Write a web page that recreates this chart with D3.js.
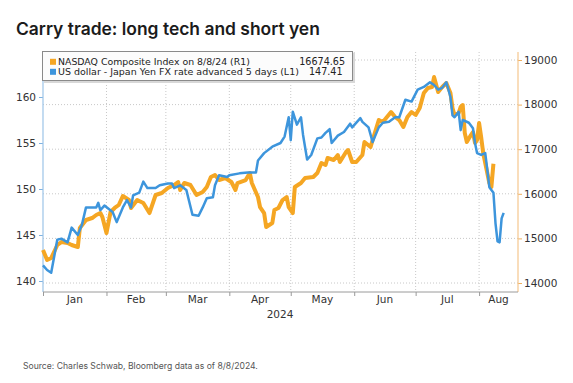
<!DOCTYPE html>
<html><head><meta charset="utf-8">
<script src="https://cdnjs.cloudflare.com/ajax/libs/d3/7.8.5/d3.min.js"></script>
<style>
html,body{margin:0;padding:0;background:#fff;}
svg{display:block;}
</style></head>
<body>
<svg id="chart" width="573" height="383"></svg>
<script>
// ---------- DATA ----------
const title = "Carry trade: long tech and short yen";
const source = "Source: Charles Schwab, Bloomberg data as of 8/8/2024.";
const legendLabels = ["NASDAQ Composite Index on 8/8/24 (R1)", "US dollar - Japan Yen FX rate advanced 5 days (L1)"];
const legendValues = ["16674.65", "147.41"];
const monthLabels = ["Jan","Feb","Mar","Apr","May","Jun","Jul","Aug"];
const yearLabel = "2024";
const leftTicks = [140,145,150,155,160];
const rightTicks = [14000,15000,16000,17000,18000,19000];

const usdjpyDates = ["2024-01-01","2024-01-03","2024-01-05","2024-01-08","2024-01-10","2024-01-13","2024-01-15","2024-01-18","2024-01-20","2024-01-22","2024-01-27","2024-01-28","2024-01-29","2024-01-31",
"2024-02-04","2024-02-06","2024-02-09","2024-02-11","2024-02-13","2024-02-14","2024-02-17","2024-02-19","2024-02-21","2024-02-25","2024-02-27",
"2024-03-02","2024-03-04","2024-03-05","2024-03-08","2024-03-11","2024-03-14","2024-03-17","2024-03-19","2024-03-21","2024-03-24","2024-03-25","2024-03-27","2024-03-31",
"2024-04-01","2024-04-06","2024-04-10","2024-04-14","2024-04-15","2024-04-18","2024-04-22","2024-04-26","2024-04-28","2024-04-30",
"2024-05-01","2024-05-02","2024-05-04","2024-05-06","2024-05-07","2024-05-09","2024-05-11","2024-05-14","2024-05-16","2024-05-18","2024-05-20","2024-05-21","2024-05-24","2024-05-27","2024-05-30","2024-05-31",
"2024-06-04","2024-06-05","2024-06-08","2024-06-10","2024-06-13","2024-06-15","2024-06-18","2024-06-21","2024-06-23","2024-06-26","2024-06-29",
"2024-07-02","2024-07-05","2024-07-08","2024-07-10","2024-07-12","2024-07-14","2024-07-16","2024-07-18","2024-07-19","2024-07-20","2024-07-22","2024-07-23","2024-07-24","2024-07-27","2024-07-29","2024-07-30","2024-07-31",
"2024-08-02","2024-08-04","2024-08-05","2024-08-06","2024-08-08","2024-08-09","2024-08-10","2024-08-11","2024-08-12","2024-08-13"];
const usdjpyValues = [141.7,141.2,140.9,144.5,144.6,144.2,145.8,145.0,146.1,148.0,148.0,148.5,147.7,148.2,
147.5,146.4,148.0,148.8,148.0,149.3,149.6,150.8,150.1,150.1,150.4,
150.6,150.6,150.1,150.4,149.9,147.2,147.1,148.0,149.0,149.1,150.4,151.5,151.3,
151.5,151.7,151.8,151.8,153.1,153.9,154.6,155.0,155.7,157.8,
155.3,158.4,157.0,157.8,155.9,153.2,153.7,155.5,155.6,156.1,156.5,155.0,155.8,156.2,157.1,156.7,
157.7,157.3,156.7,155.1,156.7,157.2,157.3,157.8,157.8,159.7,159.5,
160.8,161.1,161.6,161.3,160.8,161.0,161.6,160.0,158.0,157.8,158.4,156.4,157.5,157.2,156.6,155.0,153.9,
153.7,153.9,152.1,150.2,149.6,146.3,144.3,144.2,146.8,147.41];

const nasdaqDates = ["2024-01-01","2024-01-03","2024-01-05","2024-01-08","2024-01-10","2024-01-13","2024-01-15","2024-01-18","2024-01-19","2024-01-22","2024-01-25","2024-01-27","2024-01-29","2024-01-30",
"2024-02-01","2024-02-03","2024-02-05","2024-02-07","2024-02-09","2024-02-12","2024-02-13","2024-02-16","2024-02-19","2024-02-22","2024-02-25","2024-02-28",
"2024-03-02","2024-03-05","2024-03-07","2024-03-08","2024-03-10","2024-03-13","2024-03-16","2024-03-19","2024-03-21","2024-03-23","2024-03-25","2024-03-27","2024-03-30",
"2024-04-02","2024-04-04","2024-04-05","2024-04-09","2024-04-11","2024-04-12","2024-04-15","2024-04-16","2024-04-18","2024-04-19","2024-04-22","2024-04-23","2024-04-25","2024-04-27","2024-04-29","2024-04-30",
"2024-05-02","2024-05-03","2024-05-06","2024-05-08","2024-05-12","2024-05-14","2024-05-16","2024-05-18","2024-05-19","2024-05-22","2024-05-24","2024-05-25","2024-05-28","2024-05-29","2024-05-31",
"2024-06-02","2024-06-05","2024-06-06","2024-06-09","2024-06-10","2024-06-13","2024-06-15","2024-06-19","2024-06-21","2024-06-23","2024-06-25","2024-06-27","2024-06-29",
"2024-07-01","2024-07-03","2024-07-05","2024-07-07","2024-07-09","2024-07-10","2024-07-12","2024-07-14","2024-07-16","2024-07-18","2024-07-19","2024-07-20","2024-07-22","2024-07-23","2024-07-24","2024-07-25","2024-07-26","2024-07-28","2024-07-29","2024-07-30","2024-07-31",
"2024-08-01","2024-08-02","2024-08-03","2024-08-05","2024-08-06","2024-08-07","2024-08-08"];
const nasdaqValues = [14740,14516,14560,14852,14919,14897,14852,14807,15233,15412,15457,15525,15569,15480,
15121,15592,15682,15749,15950,15861,15682,15861,15794,15569,15973,16018,
16130,16197,16264,16085,16242,16197,15973,16040,16152,16376,16421,16309,16354,
16264,16085,16242,16309,16466,16242,15928,15704,15569,15256,15345,15637,15682,15861,15928,15704,
15569,16152,16242,16354,16376,16466,16690,16646,16803,16758,16870,16713,16937,16982,16713,
16713,16870,17161,17049,17206,17654,17610,17834,17722,17654,17498,17722,17834,
17767,17923,18260,18372,18394,18618,18282,18394,18484,18260,17923,17767,17811,17946,17991,17363,17161,17318,17385,17139,17206,
17587,17273,16915,16466,16242,16152,16674.65];

// ---------- LAYOUT ----------
const svg = d3.select("#chart");
const X0 = 43, X1 = 518, YT = 52, YB = 292;
const parse = d3.utcParse("%Y-%m-%d");
const x = d3.scaleUtc().domain([parse("2024-01-01"), parse("2024-08-20")]).range([X0, X1]);
const yL = d3.scaleLinear().domain([140,160]).range([281,97]);
const yR = d3.scaleLinear().domain([14000,19000]).range([283,60]);
const tickFont = "DejaVu Sans, Verdana, sans-serif";

function fitText(sel, target){
  const w = sel.node().getComputedTextLength();
  const fs = parseFloat(sel.attr("font-size"));
  sel.attr("font-size", (fs*target/w).toFixed(2));
}

// title
const t = svg.append("text").attr("x",16).attr("y",35).attr("font-family","Inter, 'Open Sans', sans-serif")
  .attr("font-weight",600).attr("font-size",19).attr("fill","#1b1b1b").text(title);
fitText(t, 304);

// gridlines
const monthStarts = d3.utcMonth.range(parse("2024-01-01"), parse("2024-08-20"));
const grid = svg.append("g");
grid.selectAll(".hg").data(rightTicks).join("line")
  .attr("x1",X0).attr("x2",X1).attr("y1",d=>yR(d)).attr("y2",d=>yR(d))
  .attr("stroke","#c8c8c8").attr("stroke-width",1).attr("stroke-dasharray","1,2");
grid.selectAll(".vg").data(monthStarts.slice(1)).join("line")
  .attr("x1",d=>x(d)).attr("x2",d=>x(d)).attr("y1",YT).attr("y2",YB)
  .attr("stroke","#c8c8c8").attr("stroke-width",1).attr("stroke-dasharray","1,2");

// axes
const gL = svg.append("g").attr("transform",`translate(${X0},0)`)
  .call(d3.axisLeft(yL).tickValues(leftTicks).tickSize(4).tickPadding(3));
gL.select(".domain").remove();
gL.append("line").attr("x1",0).attr("x2",0).attr("y1",YT).attr("y2",YB).attr("stroke","#9cc4e8").attr("stroke-width",1.2);
gL.selectAll(".tick line").attr("stroke","#7fb2e0");
gL.selectAll(".tick text").attr("font-family",tickFont).attr("font-size",10.5).attr("fill","#333");

const gR = svg.append("g").attr("transform",`translate(${X1},0)`)
  .call(d3.axisRight(yR).tickValues(rightTicks).tickSize(4).tickPadding(2).tickFormat(d3.format("d")));
gR.select(".domain").remove();
gR.append("line").attr("x1",0).attr("x2",0).attr("y1",YT).attr("y2",YB).attr("stroke","#f5c78e").attr("stroke-width",1.2);
gR.selectAll(".tick line").attr("stroke","#f0b060");
gR.selectAll(".tick text").attr("font-family",tickFont).attr("font-size",10.5).attr("fill","#333");

const gB = svg.append("g").attr("transform",`translate(0,${YB})`)
  .call(d3.axisBottom(x).tickValues(monthStarts).tickSize(4).tickFormat(""));
gB.select(".domain").attr("d",`M${X0},0H${X1}`).attr("stroke","#9a9a9a");
gB.selectAll(".tick line").attr("stroke","#9a9a9a");
const monthEnds = monthStarts.map((d,i)=> i<monthStarts.length-1 ? monthStarts[i+1] : x.domain()[1]);
svg.append("g").selectAll("text").data(monthLabels).join("text")
  .attr("x",(d,i)=>(x(monthStarts[i])+x(monthEnds[i]))/2).attr("y",303)
  .attr("text-anchor","middle").attr("font-family",tickFont).attr("font-size",10.5).attr("fill","#333").text(d=>d);
svg.append("text").attr("x",280).attr("y",318).attr("text-anchor","middle")
  .attr("font-family",tickFont).attr("font-size",10.5).attr("fill","#333").text(yearLabel);

// lines
const nasdaq = nasdaqDates.map((d,i)=>({date:parse(d), v:nasdaqValues[i]}));
const usdjpy = usdjpyDates.map((d,i)=>({date:parse(d), v:usdjpyValues[i]}));
svg.append("path").datum(nasdaq).attr("fill","none").attr("stroke","#f5a623").attr("stroke-width",4)
  .attr("stroke-linejoin","round").attr("d", d3.line().x(d=>x(d.date)).y(d=>yR(d.v)));
svg.append("path").datum(usdjpy).attr("fill","none").attr("stroke","#3d95dc").attr("stroke-width",2.5)
  .attr("stroke-linejoin","round").attr("d", d3.line().x(d=>x(d.date)).y(d=>yL(d.v)));

// legend
const lg = svg.append("g");
lg.append("rect").attr("x",44).attr("y",53).attr("width",311).attr("height",30).attr("fill","#d8d8d8");
lg.append("rect").attr("x",42.5).attr("y",51.5).attr("width",310).attr("height",29).attr("fill","#fcfcfc").attr("stroke","#8a8a8a");
const legColors = ["#f5a623","#3d95dc"];
const legTargets = [192, 241];
legendLabels.forEach((lab,i)=>{
  const by = 65.3 + i*10;
  lg.append("rect").attr("x",50).attr("y",by-6.5).attr("width",6).attr("height",6).attr("fill",legColors[i]);
  const tt = lg.append("text").attr("x",58).attr("y",by).attr("font-family",tickFont).attr("font-size",9.5).attr("fill","#222").text(lab);
  fitText(tt, legTargets[i]);
});
lg.append("text").attr("x",345).attr("y",65.3).attr("text-anchor","end").attr("font-family",tickFont).attr("font-size",9.6).attr("fill","#222").text(legendValues[0]);
lg.append("text").attr("x",309).attr("y",75.3).attr("font-family",tickFont).attr("font-size",9.6).attr("fill","#222").text(legendValues[1]);

// source
const s = svg.append("text").attr("x",23).attr("y",369).attr("font-family","Inter, 'Open Sans', sans-serif")
  .attr("font-size",8.5).attr("fill","#555").text(source);
fitText(s, 235);
</script>
</body></html>
